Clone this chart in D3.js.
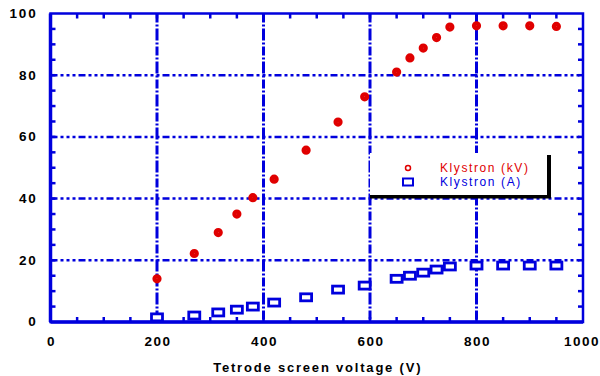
<!DOCTYPE html>
<html>
<head>
<meta charset="utf-8">
<script src="https://cdn.jsdelivr.net/npm/d3@7"></script>
<style>
  body { margin: 0; background: #fff; }
  svg { display: block; font-family: "Liberation Sans", Arial, sans-serif; }
</style>
</head>
<body>
<svg width="600" height="376"></svg>
<script>
// screen voltage (V) and the two klystron readings
var voltage = [200, 270, 315, 350, 380, 420, 480, 540, 590, 650, 675, 700, 725, 750, 800, 850, 900, 950];
var klystronKV = [14, 22.2, 29, 35, 40.3, 46.3, 55.7, 64.8, 73, 81, 85.6, 88.8, 92.2, 95.6, 96, 96, 96, 95.8];
var klystronA = [1.5, 2.1, 3.1, 4, 5, 6.3, 8, 10.5, 11.8, 14, 15, 16, 17, 18, 18.3, 18.3, 18.3, 18.3];
var xTicks = [0, 200, 400, 600, 800, 1000];
var yTicks = [0, 20, 40, 60, 80, 100];
var seriesNames = ["Klystron (kV)", "Klystron (A)"];

var blue = "#0000dd", red = "#e00000";

var svg = d3.select("svg"),
    margin = {top: 13.5, right: 17, bottom: 54, left: 50.5},
    width = +svg.attr("width") - margin.left - margin.right,
    height = +svg.attr("height") - margin.top - margin.bottom,
    g = svg.append("g").attr("transform", "translate(" + margin.left + "," + margin.top + ")");

var x = d3.scaleLinear().domain([0, 1000]).range([0, width]);
var y = d3.scaleLinear().domain([0, 100]).range([height, 0]);

// dash-dot grid
g.append("g").selectAll("line")
  .data(yTicks.slice(1, -1))
  .enter().append("line")
    .attr("x1", 0).attr("x2", width)
    .attr("y1", function(d) { return y(d); })
    .attr("y2", function(d) { return y(d); })
    .attr("stroke", blue)
    .attr("stroke-width", 2.5)
    .attr("stroke-dasharray", "7,3,3,3,3,3,3,3");

g.append("g").selectAll("line")
  .data(xTicks.slice(1, -1))
  .enter().append("line")
    .attr("y1", 0).attr("y2", height)
    .attr("x1", function(d) { return x(d); })
    .attr("x2", function(d) { return x(d); })
    .attr("stroke", blue)
    .attr("stroke-width", 3)
    .attr("stroke-dasharray", "9,2,2,2,12,2,2,2");

// minor ticks, inward, on all four sides
var minorX = d3.range(50, 1000, 50), minorY = d3.range(5, 100, 5);
var ticks = g.append("g").attr("stroke", blue).attr("stroke-width", 2.5);
minorX.forEach(function(v) {
  ticks.append("line").attr("x1", x(v)).attr("x2", x(v)).attr("y1", height).attr("y2", height - 5);
  ticks.append("line").attr("x1", x(v)).attr("x2", x(v)).attr("y1", 0).attr("y2", 5);
});
minorY.forEach(function(v) {
  ticks.append("line").attr("y1", y(v)).attr("y2", y(v)).attr("x1", 0).attr("x2", 5);
  ticks.append("line").attr("y1", y(v)).attr("y2", y(v)).attr("x1", width).attr("x2", width - 5);
});

// frame
g.append("rect")
  .attr("width", width).attr("height", height)
  .attr("fill", "none")
  .attr("stroke", blue)
  .attr("stroke-width", 2.5);
g.append("line").attr("x1", 0).attr("x2", 0).attr("y1", 0).attr("y2", height)
  .attr("stroke", blue).attr("stroke-width", 3.5);
g.append("line").attr("x1", 0).attr("x2", width).attr("y1", height).attr("y2", height)
  .attr("stroke", blue).attr("stroke-width", 3.5);

// tick labels (the last one is pulled in so it stays inside the page)
g.append("g").selectAll("text")
  .data(xTicks)
  .enter().append("text")
    .attr("x", function(d) { return Math.min(x(d) + 1, width - 1); })
    .attr("y", height + 20)
    .attr("dy", "0.32em")
    .attr("text-anchor", "middle")
    .attr("font-size", 13.5)
    .attr("font-weight", "bold")
    .attr("letter-spacing", 1.5)
    .text(function(d) { return d; });

g.append("g").selectAll("text")
  .data(yTicks)
  .enter().append("text")
    .attr("x", -13)
    .attr("y", function(d) { return y(d); })
    .attr("dy", "0.32em")
    .attr("text-anchor", "end")
    .attr("font-size", 13.5)
    .attr("font-weight", "bold")
    .attr("letter-spacing", 1.8)
    .text(function(d) { return d; });

svg.append("text")
  .attr("x", margin.left + width / 2 + 1)
  .attr("y", 368)
  .attr("dy", "0.32em")
  .attr("text-anchor", "middle")
  .attr("font-size", 13)
  .attr("font-weight", "bold")
  .attr("letter-spacing", 1.8)
  .text("Tetrode screen voltage (V)");

// data points
function blob(sel) {
  sel.append("circle")
    .attr("r", 2.4)
    .attr("fill", "#fff")
    .attr("stroke", red)
    .attr("stroke-width", 4.4);
}
function box(sel) {
  sel.append("rect")
    .attr("x", -5.5).attr("y", -3.5)
    .attr("width", 11).attr("height", 7)
    .attr("fill", "#fff")
    .attr("stroke", blue)
    .attr("stroke-width", 2.8);
}

g.append("g").selectAll("g")
  .data(voltage)
  .enter().append("g")
    .attr("transform", function(d, i) { return "translate(" + x(d) + "," + y(klystronA[i]) + ")"; })
    .call(box);

g.append("g").selectAll("g")
  .data(voltage)
  .enter().append("g")
    .attr("transform", function(d, i) { return "translate(" + x(d) + "," + y(klystronKV[i]) + ")"; })
    .call(blob);

// legend with drop shadow
var legend = svg.append("g");
legend.append("rect")
  .attr("x", 370).attr("y", 153).attr("width", 180).attr("height", 43)
  .attr("fill", "#fff");
legend.append("rect")
  .attr("x", 547).attr("y", 155).attr("width", 4).attr("height", 43)
  .attr("fill", "#000");
legend.append("rect")
  .attr("x", 370).attr("y", 195).attr("width", 181).attr("height", 3.5)
  .attr("fill", "#000");

var colors = [red, blue];
var items = legend.selectAll(".item")
  .data(seriesNames)
  .enter().append("g")
    .attr("class", "item")
    .attr("transform", function(d, i) { return "translate(0," + (168 + i * 14) + ")"; });

items.append("text")
  .attr("x", 440)
  .attr("dy", "0.35em")
  .attr("font-size", 12)
  .attr("letter-spacing", 1.6)
  .attr("fill", function(d, i) { return colors[i]; })
  .text(function(d) { return d; });

items.filter(function(d, i) { return i === 0; })
  .append("circle")
    .attr("cx", 408).attr("r", 2.5)
    .attr("fill", "none").attr("stroke", red).attr("stroke-width", 1.5);
items.filter(function(d, i) { return i === 1; })
  .append("rect")
    .attr("x", 403).attr("y", -3.5).attr("width", 10).attr("height", 7)
    .attr("fill", "none").attr("stroke", blue).attr("stroke-width", 2);
</script>
</body>
</html>
